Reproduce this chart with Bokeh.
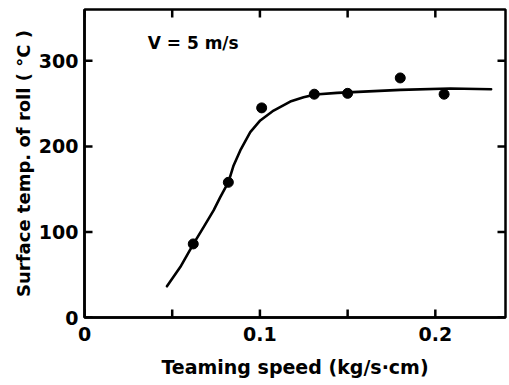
import math
from bokeh.plotting import figure
from bokeh.models import FixedTicker, Range1d, Label
from bokeh.embed import file_html
from bokeh.resources import INLINE

# measured points
speed_pts = [0.062, 0.082, 0.101, 0.131, 0.150, 0.180, 0.205]
temp_pts = [86, 158, 245, 261, 262, 280, 261]

# fitted curve
curve_speed = [0.0470, 0.0546, 0.0622, 0.0679, 0.0736, 0.0774, 0.0821, 0.0850,
               0.0888, 0.0945, 0.1002, 0.1078, 0.1173, 0.1249, 0.1316, 0.1440,
               0.1801, 0.2086, 0.2318]
curve_temp = [36.5, 59.0, 86.3, 105.7, 125.2, 140.7, 158.5, 177.7,
              195.2, 216.6, 230.3, 241.9, 252.4, 257.4, 260.6, 262.5,
              266.0, 267.6, 266.7]

x_major = [0, 0.1, 0.2]
x_minor = [0.05, 0.15]
x_tick_labels = {0: "0", 0.1: "0.1", 0.2: "0.2"}
y_major = [0, 100, 200, 300]

X_MIN, X_MAX = 0, 0.24
Y_MIN, Y_MAX = 0, 360

FONT = "DejaVu Sans"

p = figure(width=509, height=385, x_range=Range1d(X_MIN, X_MAX), y_range=Range1d(Y_MIN, Y_MAX),
           output_backend="svg", toolbar_location=None,
           min_border_left=84, min_border_right=4, min_border_top=9, min_border_bottom=68)
p.xgrid.visible = False
p.ygrid.visible = False
p.outline_line_color = "black"
p.outline_line_width = 2.5
p.background_fill_color = "white"
p.border_fill_color = "white"

for ax in (p.xaxis[0], p.yaxis[0]):
    ax.axis_line_color = "black"
    ax.axis_line_width = 2.5
    ax.major_tick_in = 0
    ax.major_tick_out = 0
    ax.minor_tick_in = 0
    ax.minor_tick_out = 0
    ax.major_label_text_font = FONT
    ax.major_label_text_font_style = "bold"
    ax.major_label_text_font_size = "19px"
    ax.major_label_text_color = "black"
    ax.axis_label_text_font = FONT
    ax.axis_label_text_font_style = "bold"
    ax.axis_label_text_color = "black"

xa = p.xaxis[0]
xa.ticker = FixedTicker(ticks=x_major, minor_ticks=x_minor)
xa.major_label_overrides = x_tick_labels
xa.major_label_standoff = 9
xa.axis_label = "Teaming speed (kg/s·cm)"
xa.axis_label_text_font_size = "19px"
xa.axis_label_standoff = 12

ya = p.yaxis[0]
ya.ticker = FixedTicker(ticks=y_major)
ya.major_label_standoff = 6
ya.axis_label = "Surface temp. of roll ( °C )"
ya.axis_label_text_font_size = "18px"
ya.axis_label_standoff = 2

# inward tick marks on all four sides (markers centred on the frame edge; the
# outer half is clipped away by the plot frame)
x_ticks_all = x_major + x_minor
tick_px = 16
p.scatter(x_ticks_all, [Y_MIN] * len(x_ticks_all), marker="dash", angle=math.pi / 2,
          size=tick_px, line_color="black", line_width=2.5)
p.scatter(x_ticks_all, [Y_MAX] * len(x_ticks_all), marker="dash", angle=math.pi / 2,
          size=tick_px, line_color="black", line_width=2.5)
p.scatter([X_MIN] * len(y_major), y_major, marker="dash",
          size=tick_px, line_color="black", line_width=2.5)
p.scatter([X_MAX] * len(y_major), y_major, marker="dash",
          size=tick_px, line_color="black", line_width=2.5)

p.line(curve_speed, curve_temp, line_width=2.6, color="black", line_join="round", line_cap="round")
p.scatter(speed_pts, temp_pts, size=10, color="black")

p.add_layout(Label(x=0.036, y=309, text="V = 5 m/s", text_font=FONT, text_font_style="bold",
                   text_font_size="17px", text_color="black"))

open("out.html", "w").write(file_html(p, INLINE))
